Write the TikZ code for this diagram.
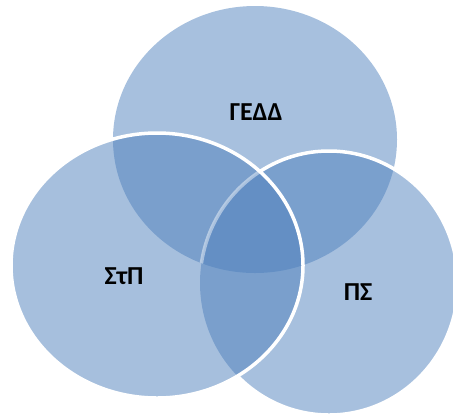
\documentclass[tikz,border=0pt]{standalone}
\usepackage{fontspec}
\setmainfont{Carlito}
\definecolor{vennblue}{HTML}{4F81BD}
\tikzset{
  venn/.style={fill=vennblue, fill opacity=0.5, draw=none},
  rim/.style={draw=white, line width=3.5bp},
  lbl/.style={font=\fontsize{26}{30}\selectfont\bfseries, text=black, inner sep=0pt}
}
\begin{document}
\begin{tikzpicture}[x=1bp,y=-1bp]
\useasboundingbox (0,0) rectangle (453,414);
% fills
\fill[venn] (255,139.5) ellipse [x radius=142, y radius=133.5];
\fill[venn] (329,283) ellipse [x radius=129, y radius=132];
\fill[venn] (157,265.5) ellipse [x radius=146, y radius=132.5];
% right rim
\draw[rim] (329,283) ellipse [x radius=129, y radius=132];
% redraw inside left ellipse to hide the right rim there
\begin{scope}
  \clip (157,265.5) ellipse [x radius=146, y radius=132.5];
  \fill[white] (157,265.5) ellipse [x radius=146, y radius=132.5];
  \fill[venn] (255,139.5) ellipse [x radius=142, y radius=133.5];
  \fill[venn] (329,283) ellipse [x radius=129, y radius=132];
  \fill[venn] (157,265.5) ellipse [x radius=146, y radius=132.5];
  \begin{scope}
    \clip (255,139.5) ellipse [x radius=142, y radius=133.5];
    \draw[rim, draw opacity=0.45] (329,283) ellipse [x radius=129, y radius=132];
  \end{scope}
\end{scope}
% left rim
\draw[rim] (157,265.5) ellipse [x radius=146, y radius=132.5];
% labels
\node[lbl] (gedd) at (256,112) {ΓΕΔΔ};
\node[lbl] (stp) at (124,276) {ΣτΠ};
\node[lbl] (ps) at (358,292) {ΠΣ};
\end{tikzpicture}
\end{document}
